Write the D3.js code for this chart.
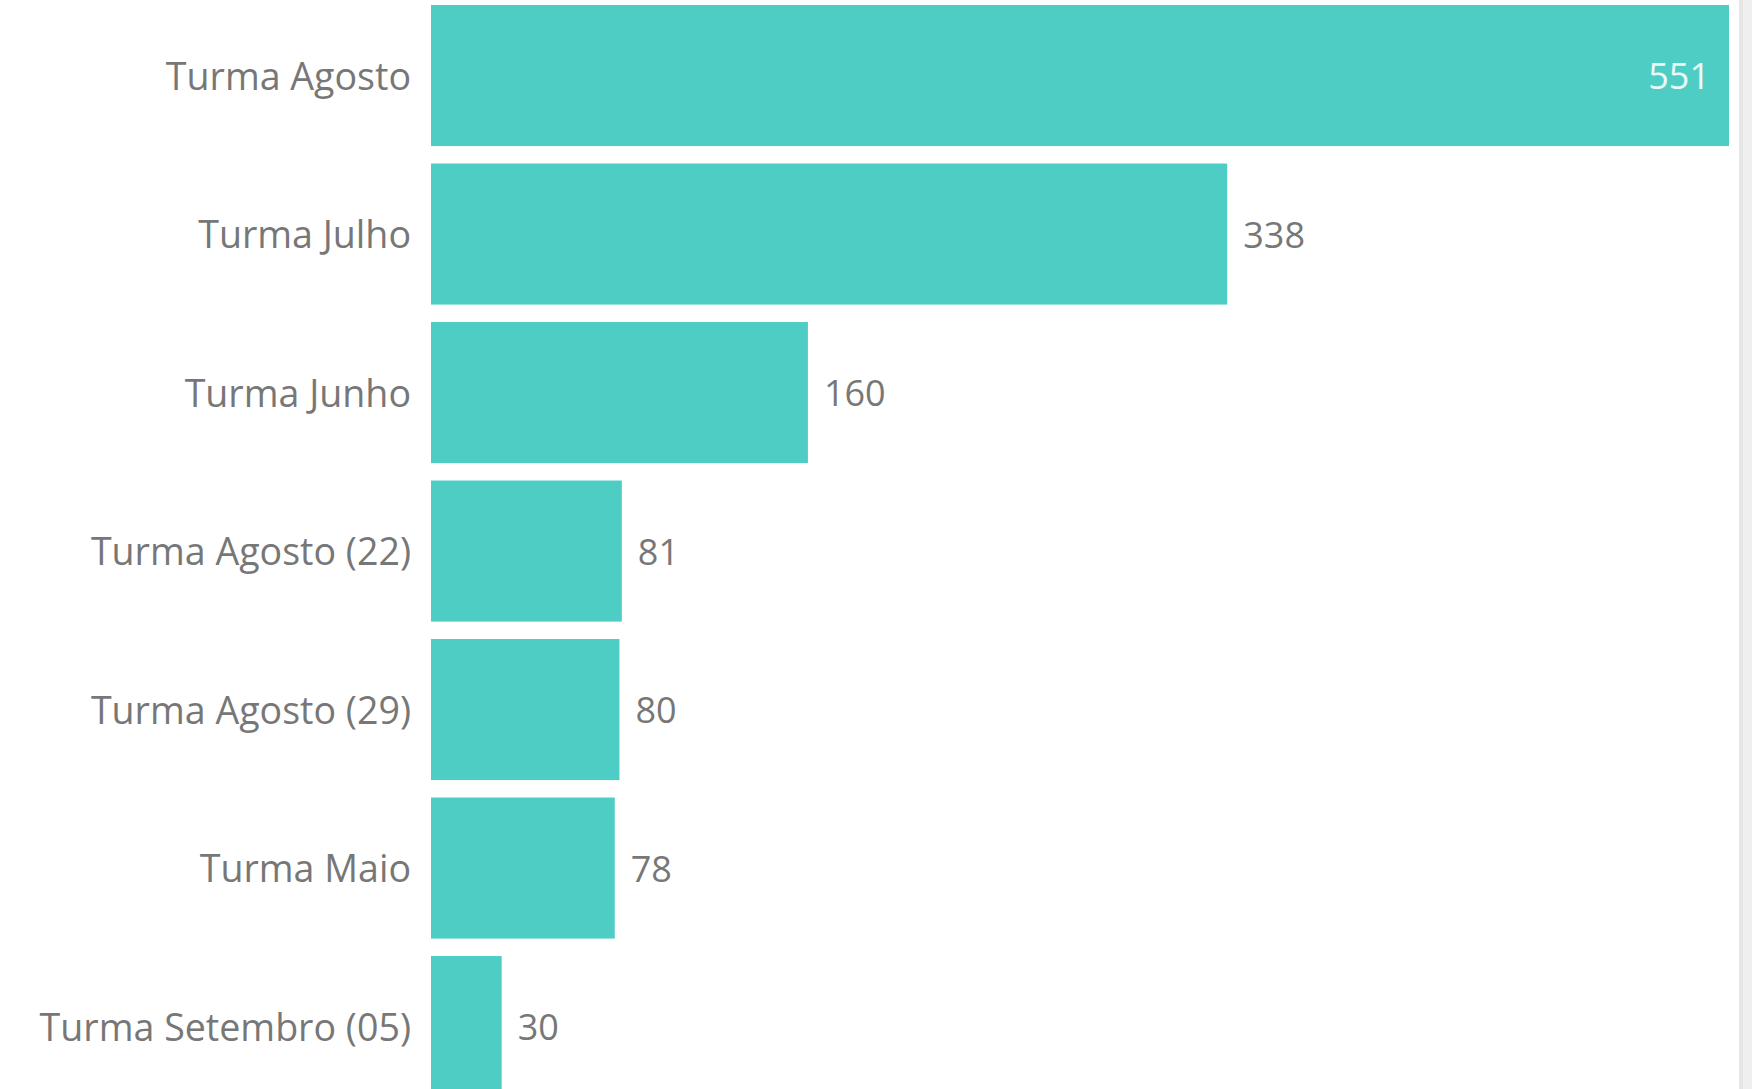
<!DOCTYPE html>
<html>
<head>
<meta charset="utf-8">
<script src="https://cdn.jsdelivr.net/npm/d3@7"></script>
<style>
  html, body { margin: 0; padding: 0; background: #ffffff; overflow: hidden; }
  svg { display: block; }
</style>
</head>
<body>
<svg id="chart" width="1752" height="1089"></svg>
<script>
const categories = ["Turma Agosto", "Turma Julho", "Turma Junho", "Turma Agosto (22)", "Turma Agosto (29)", "Turma Maio", "Turma Setembro (05)"];
const values = [551, 338, 160, 81, 80, 78, 30];

const W = 1752, H = 1089;
const svg = d3.select("#chart");
const barColor = "#4ecdc4";
const textColor = "#777777";
const fontFam = "'Open Sans', 'Noto Sans', sans-serif";

const x = d3.scaleLinear().domain([0, d3.max(values)]).range([431, 1729]);
const y = d3.scaleBand().domain(categories).range([-3.7, 1105.8]).paddingInner(0.11).paddingOuter(0.055);

const data = categories.map((c, i) => ({ c, v: values[i] }));
const isInside = d => (x(d.v) - x(0)) > 0.9 * (x.range()[1] - x(0));

// bars
svg.append("g").selectAll("rect").data(data).join("rect")
  .attr("x", x(0))
  .attr("y", d => y(d.c))
  .attr("width", d => x(d.v) - x(0))
  .attr("height", y.bandwidth())
  .attr("fill", barColor);

// category axis (no line/ticks)
const yAxis = d3.axisLeft(y).tickSize(0).tickPadding(20);
const ag = svg.append("g").attr("transform", `translate(${x(0)},0)`).call(yAxis);
ag.select(".domain").remove();
ag.selectAll("text")
  .attr("fill", textColor)
  .attr("dy", "0.38em")
  .style("font-family", fontFam)
  .style("font-size", "37.6px");

// value labels
svg.append("g").selectAll("text").data(data).join("text")
  .attr("x", d => isInside(d) ? x(d.v) - 19 : x(d.v) + 16)
  .attr("y", d => y(d.c) + y.bandwidth() / 2)
  .attr("dy", "0.38em")
  .attr("text-anchor", d => isInside(d) ? "end" : "start")
  .attr("fill", d => isInside(d) ? "#eaf8f7" : textColor)
  .style("font-family", fontFam)
  .style("font-size", "36px")
  .text(d => d.v);

// scrollbar track
svg.append("rect").attr("x", 1739).attr("y", 0).attr("width", 13).attr("height", H).attr("fill", "#efefef");
svg.append("rect").attr("x", 1739).attr("y", 0).attr("width", 4).attr("height", H).attr("fill", "#e6e6e6");
</script>
</body>
</html>
